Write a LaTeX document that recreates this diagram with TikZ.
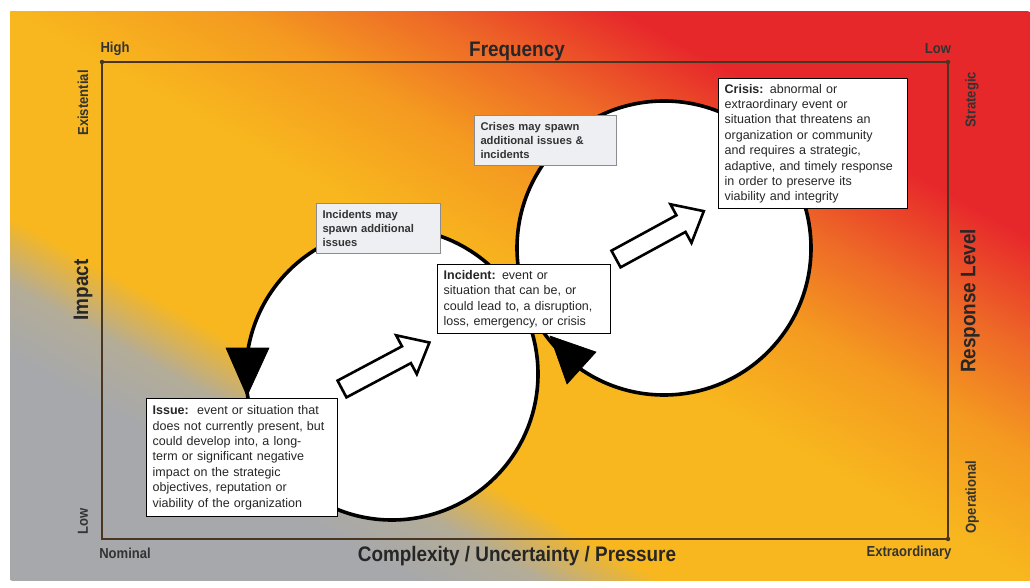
\documentclass[tikz,border=0pt]{standalone}
\usepackage{fontspec}
\setmainfont{Liberation Sans}
\newfontfamily\labelfont[FakeStretch=0.9]{Liberation Sans}
\usetikzlibrary{calc}

\definecolor{bgGray}{HTML}{A6A8AB}
\definecolor{bgGrayWarm}{HTML}{B3AC98}
\definecolor{bgYellow}{HTML}{F8B71E}
\definecolor{bgAmber}{HTML}{F49A20}
\definecolor{bgOrange}{HTML}{EE6A27}
\definecolor{bgRed}{HTML}{E7282B}
\definecolor{axisbrown}{HTML}{4A3422}
\definecolor{spawnfill}{HTML}{EEEFF2}

% field along the low-to-high diagonal: grey -> yellow -> orange -> red
% (25bp = bottom-left corner, 75bp = top-right corner)
\pgfdeclarehorizontalshading{riskfield}{100bp}{%
  color(0bp)=(bgGray); color(34.8bp)=(bgGray); color(38bp)=(bgGrayWarm);
  color(41bp)=(bgYellow); color(50bp)=(bgYellow); color(55.5bp)=(bgAmber);
  color(60bp)=(bgOrange); color(65bp)=(bgRed); color(100bp)=(bgRed)}

\tikzset{
  defbox/.style={draw=black, line width=1.4pt, fill=white, anchor=north west,
    align=left, inner xsep=6pt, inner ysep=3pt, text=black!85,
    font=\fontsize{12.5}{15.4}\selectfont},
  spawnbox/.style={draw=black!45, line width=1pt, fill=spawnfill, anchor=north west,
    align=left, inner xsep=6pt, inner ysep=3pt, text=black!80,
    font=\bfseries\fontsize{11.2}{14}\selectfont},
  cyclering/.style={draw=black, line width=3.6pt, fill=white},
  headtri/.style={fill=black, draw=black, line width=0.6pt, line join=miter},
  blockarrow/.style={draw=black, line width=2.6pt, fill=white, line join=miter},
  axisline/.style={draw=axisbrown, line width=1.1pt},
  axistitle/.style={font=\labelfont\bfseries\fontsize{21}{24}\selectfont, text=black!85},
  ticklabel/.style={font=\labelfont\bfseries\fontsize{14.5}{16}\selectfont, text=black!80},
}

\begin{document}
\begin{tikzpicture}[x=1pt, y=-1pt]
\useasboundingbox (0,0) rectangle (1030,588);
\fill[white] (0,0) rectangle (1030,588);

% background field, shaded along the gradient of u+v (field 1020 x 568)
\begin{scope}
  \clip (10,12) rectangle (1030,580);
  \shade[shading=riskfield, transform canvas={shift={(520,296)}, rotate=60.9}]
    (-496,-720) rectangle (496,720);
\end{scope}

% frame of the two axes
\coordinate (tl) at (102,62);
\coordinate (tr) at (948,62);
\coordinate (br) at (948,539);
\coordinate (bl) at (102,539);
\draw[axisline] (tl) -- (tr) -- (br) -- (bl) -- cycle;
\foreach \c in {tl,tr,br} \fill[axisbrown] (\c) circle (2.2pt);

% axis titles and end labels
\node[axistitle] (freq) at (517,51) {Frequency};
\node[axistitle] (cup) at (517,556) {Complexity / Uncertainty / Pressure};
\node[axistitle, rotate=90] (impact) at (83,290) {Impact};
\node[axistitle, rotate=90] (resp) at (970,301) {Response Level};
\node[ticklabel] (high) at (115,49) {High};
\node[ticklabel] (lowtop) at (938,49) {Low};
\node[ticklabel] (nominal) at (125,553) {Nominal};
\node[ticklabel] (extra) at (909,553) {Extraordinary};
\node[ticklabel, rotate=90] (exist) at (83,103) {Existential};
\node[ticklabel, rotate=90] (lowleft) at (83,521) {Low};
\node[ticklabel, rotate=90] (strat) at (972,100) {Strategic};
\node[ticklabel, rotate=90] (oper) at (972,497) {Operational};

% the two escalation cycles
\draw[cyclering] (392,374) circle (146);
\draw[cyclering] (664,248) circle (147);

% heads on the cycles
\draw[headtri] (226,348) -- (269,348) -- (247,396) -- cycle;
\draw[headtri] (550,336) -- (596,352) -- (567,384) -- cycle;

% escalation block arrows
\begin{scope}[shift={(342,389)}, rotate=28]
  \draw[blockarrow] (0,-9.5) -- (73,-9.5) -- (73,-22) -- (99,0) -- (73,22) -- (73,9.5) -- (0,9.5) -- cycle;
\end{scope}
\begin{scope}[shift={(616,259)}, rotate=28.6]
  \draw[blockarrow] (0,-9.5) -- (74,-9.5) -- (74,-22) -- (100,0) -- (74,22) -- (74,9.5) -- (0,9.5) -- cycle;
\end{scope}

% spawn notes
\node[spawnbox, text width=112pt, minimum height=50pt] (spawnA) at (316,203)
  {Incidents may\\spawn additional\\issues};
\node[spawnbox, text width=130pt, minimum height=50pt] (spawnB) at (474,115)
  {Crises may spawn\\additional issues \&\\incidents};

% definitions
\node[defbox, text width=177pt, minimum height=130pt] (crisis) at (718,78)
  {\textbf{Crisis:} abnormal or\\extraordinary event or\\situation that threatens an\\organization or community\\and requires a strategic,\\adaptive, and timely response\\in order to preserve its\\viability and integrity};
\node[defbox, text width=161pt, minimum height=69pt] (incident) at (437,264)
  {\textbf{Incident:} event or\\situation that can be, or\\could lead to, a disruption,\\loss, emergency, or crisis};
\node[defbox, text width=179pt, minimum height=118pt] (issue) at (146,398)
  {\textbf{Issue:}\ \ event or situation that\\does not currently present, but\\could develop into, a long-\\term or significant negative\\impact on the strategic\\objectives, reputation or\\viability of the organization};
\end{tikzpicture}
\end{document}
